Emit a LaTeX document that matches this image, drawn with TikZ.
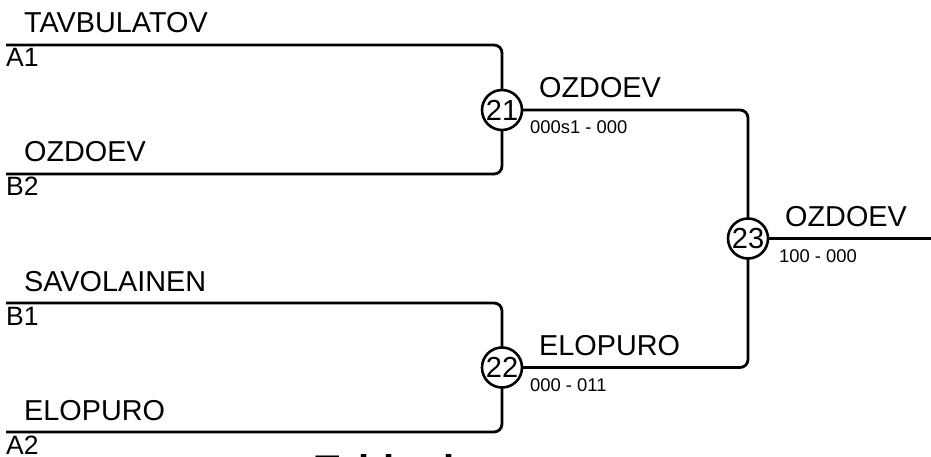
\documentclass[tikz,border=0pt]{standalone}
\usepackage{fontspec}
\setmainfont{Liberation Sans}
\usetikzlibrary{backgrounds}
\begin{document}
\begin{tikzpicture}[x=1pt,y=-1pt,
  wire/.style={line width=2.8pt, rounded corners=8pt},
  pname/.style={font=\fontsize{28.8}{32}\selectfont, inner sep=0pt, anchor=base west},
  seedlbl/.style={font=\fontsize{26.5}{30}\selectfont, inner sep=0pt, anchor=base west},
  scorelbl/.style={font=\fontsize{18.4}{21}\selectfont, inner sep=0pt, anchor=base west},
  bout/.style={circle, draw, line width=2.6pt, fill=white, minimum size=40pt, inner sep=0pt, font=\fontsize{29}{32}\selectfont},
  ttlstyle/.style={font=\bfseries\fontsize{40}{44}\selectfont, inner sep=0pt, anchor=base west}]
\useasboundingbox (0,0) rectangle (931,457);
% entry points
\coordinate (s1) at (6,45);
\coordinate (s2) at (6,174);
\coordinate (s3) at (6,303);
\coordinate (s4) at (6,432);
\coordinate (fin) at (931,238.5);
% bouts
\node[bout] (m21) at (502,110) {21};
\node[bout] (m22) at (502,367.5) {22};
\node[bout] (m23) at (748,238.5) {23};
% connectors
\begin{scope}[on background layer]
\draw[wire] (s1) -| (m21.center) |- (s2);
\draw[wire] (s3) -| (m22.center) |- (s4);
\draw[wire] (m21.center) -| (m23.center) |- (m22.center);
\draw[wire] (m23.center) -- (fin);
\end{scope}
% names
\node[pname] (n1) at (24,33) {TAVBULATOV};
\node[pname] (n2) at (24,162) {OZDOEV};
\node[pname] (n3) at (24,291) {SAVOLAINEN};
\node[pname] (n4) at (24,420) {ELOPURO};
\node[pname] (w21) at (539,98) {OZDOEV};
\node[pname] (w22) at (539,355.5) {ELOPURO};
\node[pname] (w23) at (785,226.5) {OZDOEV};
% seeds
\node[seedlbl] (a1) at (6,67) {A1};
\node[seedlbl] (b2) at (6,196) {B2};
\node[seedlbl] (b1) at (6,325) {B1};
\node[seedlbl] (a2) at (6,454) {A2};
% scores
\node[scorelbl] (sc21) at (530,134) {000s1 - 000};
\node[scorelbl] (sc22) at (530,391.5) {000 - 011};
\node[scorelbl] (sc23) at (779,262.5) {100 - 000};
% title (mostly below the visible area)
\node[ttlstyle] (ttl) at (315,483.5) {Tabloul};
\end{tikzpicture}
\end{document}
